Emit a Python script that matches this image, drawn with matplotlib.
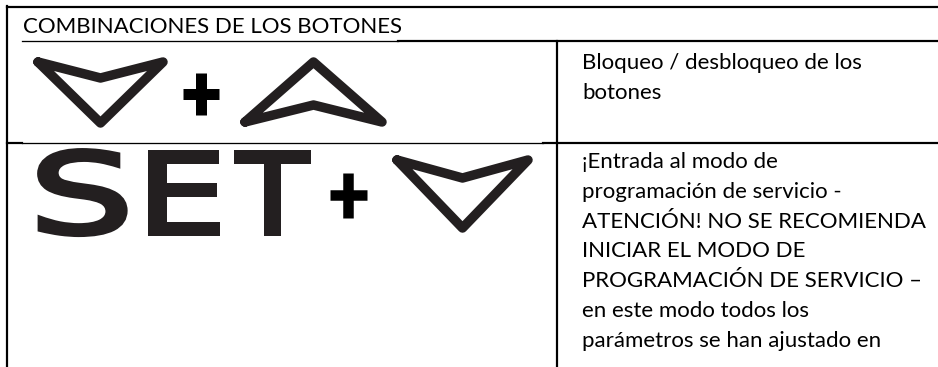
import matplotlib.pyplot as plt
from matplotlib.patheffects import AbstractPathEffect
from matplotlib.transforms import Affine2D

# textos de la tabla
titulo = 'COMBINACIONES DE LOS BOTONES'
fila1_texto = ['Bloqueo / desbloqueo de los', 'botones']
fila2_texto = ['¡Entrada al modo de',
               'programación de servicio -',
               'ATENCIÓN! NO SE RECOMIENDA',
               'INICIAR EL MODO DE',
               'PROGRAMACIÓN DE SERVICIO –',
               'en este modo todos los',
               'parámetros se han ajustado en']
letras_set = ['S', 'E', 'T']

W, H = 938, 367
fig = plt.figure(figsize=(W / 100, H / 100), dpi=100)
ax = fig.add_axes([0, 0, 1, 1])
ax.set_xlim(0, W)
ax.set_ylim(H, 0)
ax.axis('off')

icono = '#231f20'
fuente = ['Lato', 'DejaVu Sans']
tam_texto = 16


def px(v):
    # pixeles -> puntos
    return v * 72 / 100


class Estirar(AbstractPathEffect):
    # estira el texto en horizontal alrededor de cx (pantalla) y le da un trazo para engrosarlo
    def __init__(self, cx, sx, trazo):
        super().__init__()
        self.cx = cx
        self.sx = sx
        self.trazo = trazo

    def draw_path(self, renderer, gc, tpath, affine, rgbFace=None):
        t = affine + Affine2D().translate(-self.cx, 0).scale(self.sx, 1).translate(self.cx, 0)
        gc0 = renderer.new_gc()
        gc0.copy_properties(gc)
        gc0.set_linewidth(self.trazo)
        gc0.set_foreground(rgbFace)
        gc0.set_joinstyle('miter')
        renderer.draw_path(gc0, tpath, t, rgbFace)
        gc0.restore()


def flecha_abajo(x0, y0, ancho, alto, muesca):
    xs = [x0, x0 + ancho / 2, x0 + ancho, x0 + ancho / 2, x0]
    ys = [y0, y0 + muesca, y0, y0 + alto, y0]
    ax.plot(xs, ys, color=icono, lw=px(9.5), solid_joinstyle='round', solid_capstyle='round')


def flecha_arriba(x0, y0, ancho, alto, muesca):
    xs = [x0, x0 + ancho / 2, x0 + ancho, x0 + ancho / 2, x0]
    ys = [y0 + alto, y0 + alto - muesca, y0 + alto, y0, y0 + alto]
    ax.plot(xs, ys, color=icono, lw=px(9.5), solid_joinstyle='round', solid_capstyle='round')


def mas(cx, cy, ancho, alto, grosor):
    ax.plot([cx - ancho / 2, cx + ancho / 2], [cy, cy], color='black', lw=px(grosor), solid_capstyle='butt')
    ax.plot([cx, cx], [cy - alto / 2, cy + alto / 2], color='black', lw=px(grosor), solid_capstyle='butt')


# bordes de la tabla
ax.plot([7, W], [7, 7], color='black', lw=px(2.2))
ax.plot([7, 7], [6, H], color='black', lw=px(2.2))
ax.plot([22, 398], [41, 41], color='black', lw=px(1.3))
ax.plot([398, W], [41, 41], color='black', lw=px(2.2))
ax.plot([7, 22], [142.5, 142.5], color='black', lw=px(2.2))
ax.plot([22, 543], [143, 143], color='black', lw=px(1.3))
ax.plot([543, W], [142.5, 142.5], color='black', lw=px(2.2))
ax.plot([557, 557], [41, H], color='black', lw=px(2.2))

# cabecera
ax.text(23, 33, titulo, fontsize=tam_texto, family=fuente, color='black', va='baseline', ha='left')

# fila 1: abajo + arriba
flecha_abajo(38, 62, 125, 61, 16)
mas(201, 94, 36, 42, 11)
flecha_arriba(245, 62, 137, 60, 17)

for i, linea in enumerate(fila1_texto):
    ax.text(582, 69 + i * 30, linea, fontsize=tam_texto, family=fuente, color='black', va='baseline')

# fila 2: SET + abajo
for letra, xc, sx in zip(letras_set, [81.5, 181, 272], [1.5, 1.3, 1.05]):
    cx = ax.transData.transform((xc, 0))[0]
    ax.text(xc, 233, letra, fontsize=80, family='DejaVu Sans',
            color=icono, ha='center', va='baseline', path_effects=[Estirar(cx, sx, px(5))])
mas(348, 195, 37, 45, 10.5)
flecha_abajo(397, 160, 131, 68, 18)

for i, linea in enumerate(fila2_texto):
    ax.text(582, 168 + i * 29.8, linea, fontsize=tam_texto, family=fuente, color='black', va='baseline')

fig.savefig('out.png', dpi=100, facecolor='white')
